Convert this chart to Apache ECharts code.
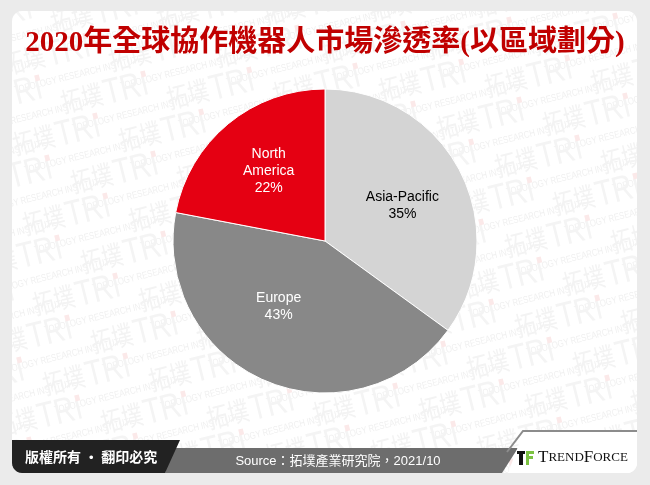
<!DOCTYPE html>
<html>
<head>
<meta charset="utf-8">
<script src="https://cdn.jsdelivr.net/npm/echarts@6/dist/echarts.min.js"></script>
<style>
html,body{margin:0;padding:0;background:#ebebeb;}
#chart{width:650px;height:485px;}
</style>
</head>
<body>
<div id="chart"></div>
<script>
// ---- data ----
const titleText = '2020年全球協作機器人市場滲透率(以區域劃分)';
const categories = ['Asia-Pacific', 'Europe', 'North America'];
const shares = [35, 43, 22];
const sourceText = 'Source：拓墣產業研究院，2021/10';
const copyrightText = '版權所有 · 翻印必究';

// ---- styles ----
const sliceColors = ['#d4d4d4', '#888888', '#e50012'];
const labelColors = ['#000000', '#ffffff', '#ffffff'];
const labelOffsets = [[7, 1], [-15, -7], [-6, -9]];

function arcPts(cx, cy, r, a0, a1, n) {
  const pts = [];
  for (let i = 0; i <= n; i++) {
    const a = (a0 + (a1 - a0) * i / n) * Math.PI / 180;
    pts.push([cx + r * Math.cos(a), cy + r * Math.sin(a)]);
  }
  return pts;
}
// frame: outer rect with rounded-rect hole (card 12..637 x 11..473, r=10)
const R = 10, L = 12, T = 11, Rt = 637, B = 473;
const framePts = [[0, 0], [650, 0], [650, 485], [0, 485], [0, T + R]]
  .concat([[L, T + R]])
  .concat([[L, B - R]])
  .concat(arcPts(L + R, B - R, R, 180, 90, 6))
  .concat([[Rt - R, B]])
  .concat(arcPts(Rt - R, B - R, R, 90, 0, 6))
  .concat([[Rt, T + R]])
  .concat(arcPts(Rt - R, T + R, R, 0, -90, 6))
  .concat([[L + R, T]])
  .concat(arcPts(L + R, T + R, R, -90, -180, 6))
  .concat([[0, T + R]]);
const blackBarPts = [[12, 440], [180, 440], [165, 473], [22, 473]]
  .concat(arcPts(22, 463, 10, 90, 180, 6)).concat([[12, 440]]);
const whiteLogoPts = [[508, 473], [524, 431], [637, 431], [637, 463]]
  .concat(arcPts(627, 463, 10, 0, 90, 6));

// ---- watermark lattice ----
const wm = [];
const ux = 106, uy = -4, vx = -48, vy = 42, x0 = 58, y0 = 90;
for (let j = -4; j < 14; j++) {
  for (let k = -4; k < 12; k++) {
    const x = x0 + ux * k + vx * j;
    const y = y0 + uy * k + vy * j;
    if (x < -140 || x > 660 || y < -30 || y > 500) continue;
    wm.push({
      type: 'group', x: x, y: y, rotation: 14 * Math.PI / 180, scaleX: 0.78, z: 0, silent: true,
      children: [
        {type: 'text', x: 0, y: 0, style: {text: '拓墣', font: '27px "Noto Sans CJK TC"', fill: '#f3f3f3', verticalAlign: 'top'}},
        {type: 'text', x: 56, y: -2, style: {text: 'TRı', font: '36px "Liberation Sans"', fill: '#f4f4f4', verticalAlign: 'top'}},
        {type: 'rect', shape: {x: 108, y: 2, width: 6, height: 6}, style: {fill: '#fbe9e9'}},
        {type: 'text', x: 6, y: 36, style: {text: 'TOPOLOGY RESEARCH INSTITUTE', font: '10px "Liberation Sans"', fill: '#f0f0f0', verticalAlign: 'top'}}
      ]
    });
  }
}

const chart = echarts.init(document.getElementById('chart'), null, {renderer: 'canvas'});
const option = {
  backgroundColor: '#ffffff',
  animation: false,
  title: {
    text: titleText,
    left: 'center',
    top: 24,
    textStyle: {
      fontFamily: '"Liberation Serif", "Noto Sans CJK TC"',
      fontWeight: 'bold',
      fontSize: 29,
      color: '#c00000'
    }
  },
  graphic: [].concat(wm, [
    {type: 'polygon', z: 1, silent: true, shape: {points: framePts}, style: {fill: '#ebebeb'}},
    {type: 'polygon', z: 10, silent: true, shape: {points: [[170, 448], [518, 448], [502, 473], [165, 473]]}, style: {fill: '#6d6d6d'}},
    {type: 'polygon', z: 11, silent: true, shape: {points: blackBarPts}, style: {fill: '#222222'}},
    {type: 'polygon', z: 10, silent: true, shape: {points: whiteLogoPts}, style: {fill: '#ffffff'}},
    {type: 'polyline', z: 11, silent: true, shape: {points: [[507, 452], [523, 431], [637, 431]]}, style: {stroke: '#8c8c8c', lineWidth: 2, fill: null}},
    {type: 'text', z: 12, silent: true, x: 25, y: 457,
      style: {text: copyrightText, font: 'bold 14px "Noto Sans CJK TC"', fill: '#ffffff', verticalAlign: 'middle'}},
    {type: 'text', z: 12, silent: true, x: 338, y: 461,
      style: {text: sourceText, font: '13px "Liberation Sans", "Noto Sans CJK TC"', fill: '#ffffff', align: 'center', verticalAlign: 'middle'}},
    {type: 'rect', z: 12, silent: true, shape: {x: 517, y: 451, width: 8, height: 3}, style: {fill: '#111111'}},
    {type: 'rect', z: 12, silent: true, shape: {x: 519, y: 451, width: 4, height: 14}, style: {fill: '#111111'}},
    {type: 'rect', z: 12, silent: true, shape: {x: 526, y: 451, width: 8, height: 3}, style: {fill: '#7cc242'}},
    {type: 'rect', z: 12, silent: true, shape: {x: 526, y: 456, width: 7, height: 3}, style: {fill: '#7cc242'}},
    {type: 'rect', z: 12, silent: true, shape: {x: 526, y: 451, width: 3, height: 14}, style: {fill: '#7cc242'}},
    {type: 'text', z: 12, silent: true, x: 538, y: 458,
      style: {
        text: '{a|T}{b|REND}{a|F}{b|ORCE}',
        verticalAlign: 'middle',
        rich: {
          a: {font: '17px "Liberation Serif"', fill: '#111111'},
          b: {font: '13px "Liberation Serif"', fill: '#111111'}
        }
      }}
  ]),
  series: [{
    type: 'pie',
    center: [325, 241],
    radius: 152,
    startAngle: 90,
    clockwise: true,
    z: 5,
    itemStyle: {borderColor: '#ffffff', borderWidth: 1},
    emphasis: {disabled: true},
    label: {
      position: 'inside',
      fontFamily: '"Liberation Sans"',
      fontSize: 14,
      lineHeight: 17,
      formatter: p => p.name.replace(' ', '\n') + '\n' + p.value + '%'
    },
    labelLine: {show: false},
    data: categories.map((c, i) => ({
      name: c,
      value: shares[i],
      itemStyle: {color: sliceColors[i]},
      label: {color: labelColors[i], offset: labelOffsets[i]}
    }))
  }]
};
chart.setOption(option);
</script>
</body>
</html>
